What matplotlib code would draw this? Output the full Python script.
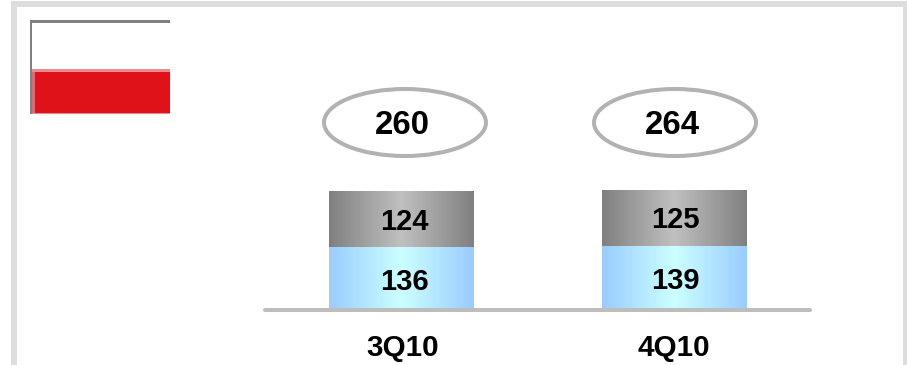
import numpy as np
import matplotlib
matplotlib.use('Agg')
import matplotlib.pyplot as plt
from matplotlib.colors import LinearSegmentedColormap
from matplotlib.patches import Ellipse, Rectangle

plt.rcParams['font.family'] = ['Liberation Sans', 'DejaVu Sans']

quarters = ['3Q10', '4Q10']
lower = [136, 139]
upper = [124, 125]
totals = [260, 264]

W, H = 907, 365
PX_PER_UNIT = 0.447
BASE_Y = 308
BAR_CENTERS = [401.5, 674]
BAR_W = 145
LABEL_DX = [2.5, 1.0]

grey_cmap = LinearSegmentedColormap.from_list('grey_bar', ['#808080', '#c0c0c0', '#808080'])
blue_cmap = LinearSegmentedColormap.from_list('blue_bar', ['#99ccff', '#ccffff', '#99ccff'])
ramp = np.linspace(0, 1, 256).reshape(1, -1)


def grad_bar(ax, bar, cmap):
    # paint a horizontal gradient inside the bar rectangle
    x0, y0 = bar.get_x(), bar.get_y()
    ax.imshow(ramp, cmap=cmap, aspect='auto', zorder=2, interpolation='bilinear',
              extent=[x0, x0 + bar.get_width(), y0, y0 + bar.get_height()])


fig = plt.figure(figsize=(W / 100, H / 100), dpi=100, facecolor='white')

# overlay in pixel coordinates for the frame and the small flag
bg = fig.add_axes([0, 0, 1, 1])
bg.set_xlim(0, W)
bg.set_ylim(H, 0)
bg.axis('off')
bg.add_patch(Rectangle((11, 1), 6, H, fc='#dddddd', ec='none'))
bg.add_patch(Rectangle((11, 1), 896, 6, fc='#dddddd', ec='none'))
bg.add_patch(Rectangle((903, 1), 4, H, fc='#dddddd', ec='none'))

bg.add_patch(Rectangle((30, 20), 140, 3, fc='#808080', ec='none'))
bg.add_patch(Rectangle((30, 69), 140, 45, fc='#ee8a8e', ec='none'))
bg.add_patch(Rectangle((35, 72), 135, 41, fc='#e01219', ec='none'))
bg.add_patch(Rectangle((32, 72), 3, 41, fc='#e8666b', ec='none'))
bg.add_patch(Rectangle((30, 20), 2, 94, fc='#808080', ec='none'))

# chart axes: x in category units, y in data units, zero on the baseline
ax = fig.add_axes([0, 0, 1, 1], facecolor='none')
spacing = BAR_CENTERS[1] - BAR_CENTERS[0]
ax.set_xlim(-BAR_CENTERS[0] / spacing, (W - BAR_CENTERS[0]) / spacing)
ax.set_ylim(-(H - BASE_Y) / PX_PER_UNIT, BASE_Y / PX_PER_UNIT)
ax.axis('off')

xs = np.arange(len(quarters))
bars_low = ax.bar(xs, lower, BAR_W / spacing, color='none')
bars_up = ax.bar(xs, upper, BAR_W / spacing, bottom=lower, color='none')
xlim, ylim = ax.get_xlim(), ax.get_ylim()
for b in bars_low:
    grad_bar(ax, b, blue_cmap)
for b in bars_up:
    grad_bar(ax, b, grey_cmap)
ax.set_xlim(xlim)
ax.set_ylim(ylim)

for i, q in enumerate(quarters):
    tx = i + LABEL_DX[i] / spacing
    ax.text(tx, lower[i] / 2 - 10, str(lower[i]), ha='center', va='center',
            fontsize=21, fontweight='bold', color='black', zorder=4)
    ax.text(tx, lower[i] + upper[i] / 2 - 5, str(upper[i]), ha='center', va='center',
            fontsize=21, fontweight='bold', color='black', zorder=4)

# baseline and quarter labels, drawn in pixels
bg_top = fig.add_axes([0, 0, 1, 1], facecolor='none')
bg_top.set_xlim(0, W)
bg_top.set_ylim(H, 0)
bg_top.axis('off')
bg_top.plot([265, 810], [310, 310], color='#bdbdbd', lw=2.9, solid_capstyle='round')
for cx, q in zip([403, 673.5], quarters):
    bg_top.text(cx, 347.5, q, ha='center', va='center', fontsize=21.3, fontweight='bold')
for cx, tx, t in zip([405, 675], [402, 672], totals):
    bg_top.add_patch(Ellipse((cx, 122.5), 162, 67, fc='white', ec='#b2b2b2', lw=2.9))
    bg_top.text(tx, 125.5, str(t), ha='center', va='center', fontsize=23.8, fontweight='bold')

fig.savefig('out.png', dpi=100)
